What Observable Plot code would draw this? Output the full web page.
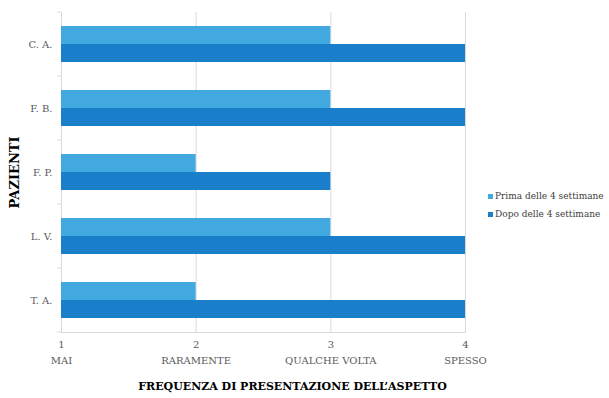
<!DOCTYPE html>
<html>
<head>
<meta charset="utf-8">
<script src="https://cdn.jsdelivr.net/npm/d3@7"></script>
<script src="https://cdn.jsdelivr.net/npm/@observablehq/plot@0.6"></script>
<style>
  body { margin: 0; background: #fff; }
  #wrap { position: relative; width: 609px; height: 398px; overflow: hidden; }
  #legend { position: absolute; left: 488px; top: 190px; }
  #wrap svg [aria-label="fy-axis label"] text, #wrap svg [aria-label="fy-axis label"] { font-weight: bold; fill: #000; font-size: 13px; }
</style>
</head>
<body>
<div id="wrap"></div>
<script>
const patients = ["C. A.", "F. B.", "F. P.", "L. V.", "T. A."];
const seriesNames = ["Prima delle 4 settimane", "Dopo delle 4 settimane"];
const prima = [3, 3, 2, 3, 2];
const dopo = [4, 4, 3, 4, 4];
const tickValues = [1, 2, 3, 4];
const tickLabels = ["MAI", "RARAMENTE", "QUALCHE VOLTA", "SPESSO"];
const colors = ["#41a9df", "#1a7fcb"];
const xTitle = "FREQUENZA DI PRESENTAZIONE DELL\u2019ASPETTO";
const yTitle = "PAZIENTI";

const rows = patients.flatMap((p, i) => [
  {patient: p, series: seriesNames[0], value: prima[i]},
  {patient: p, series: seriesNames[1], value: dopo[i]}
]);

const gridColor = "#d9d9d9";
const textColor = "#595959";

const chart = Plot.plot({
  width: 609,
  height: 398,
  marginLeft: 61,
  marginRight: 144,
  marginTop: 10,
  marginBottom: 65,
  style: {fontFamily: "DejaVu Serif", fontSize: "10px", color: textColor, background: "#fff", overflow: "visible"},
  x: {domain: [1, 4]},
  y: {domain: seriesNames, paddingInner: 0, paddingOuter: 0.743, axis: null},
  fy: {domain: patients, padding: 0},
  color: {domain: seriesNames, range: colors},
  marks: [
    Plot.gridX(tickValues.slice(1), {stroke: gridColor, strokeOpacity: 1}),
    Plot.ruleX([tickValues[0]], {stroke: gridColor}),
    Plot.frame({anchor: "bottom", facetAnchor: "bottom", stroke: gridColor}),
    Plot.barX(rows, {fy: "patient", y: "series", x1: tickValues[0], x2: "value", fill: "series"}),
    Plot.axisFy({anchor: "left", tickSize: 0, tickPadding: 9, label: yTitle, labelAnchor: "center", labelArrow: "none", labelOffset: 52, fontSize: 10, fill: textColor}),
    Plot.axisX(tickValues, {tickSize: 0, tickPadding: 8, tickFormat: d => String(d), label: null, fill: textColor}),
    Plot.axisX(tickValues, {tickSize: 0, tickPadding: 24, tickFormat: d => tickLabels[tickValues.indexOf(d)], label: null, fill: textColor}),
    Plot.text([xTitle], {frameAnchor: "bottom", facetAnchor: "bottom", dx: 29, dy: 57, fontWeight: "bold", fontSize: 11, fill: "#000"})
  ]
});

// small ticks on the left axis at the boundaries between patients
const fy = chart.scale("fy");
const xs = chart.scale("x");
const x0 = xs.apply(tickValues[0]);
const bounds = patients.map(p => fy.apply(p)).concat([fy.apply(patients[patients.length - 1]) + fy.bandwidth]);
const svg = d3.select(chart.tagName.toLowerCase() === "svg" ? chart : chart.querySelector("svg"));
svg.append("g").attr("stroke", gridColor)
  .selectAll("line").data(bounds).join("line")
  .attr("x1", x0 - 4).attr("x2", x0).attr("y1", d => d).attr("y2", d => d);

document.getElementById("wrap").appendChild(chart);

const legend = chart.legend("color", {
  legend: "swatches",
  columns: 1,
  swatchSize: 5,
  className: "lg",
  style: {fontFamily: "DejaVu Serif", fontSize: "9px", color: "#404040"}
});
legend.id = "legend";
document.getElementById("wrap").appendChild(legend);
</script>
<style>
  .lg-swatches { margin: 0 !important; min-height: 0 !important; }
  .lg-swatch { margin-bottom: 5px !important; line-height: 12px; }
  .lg-swatch svg { margin-right: 2px !important; }
</style>
</body>
</html>
